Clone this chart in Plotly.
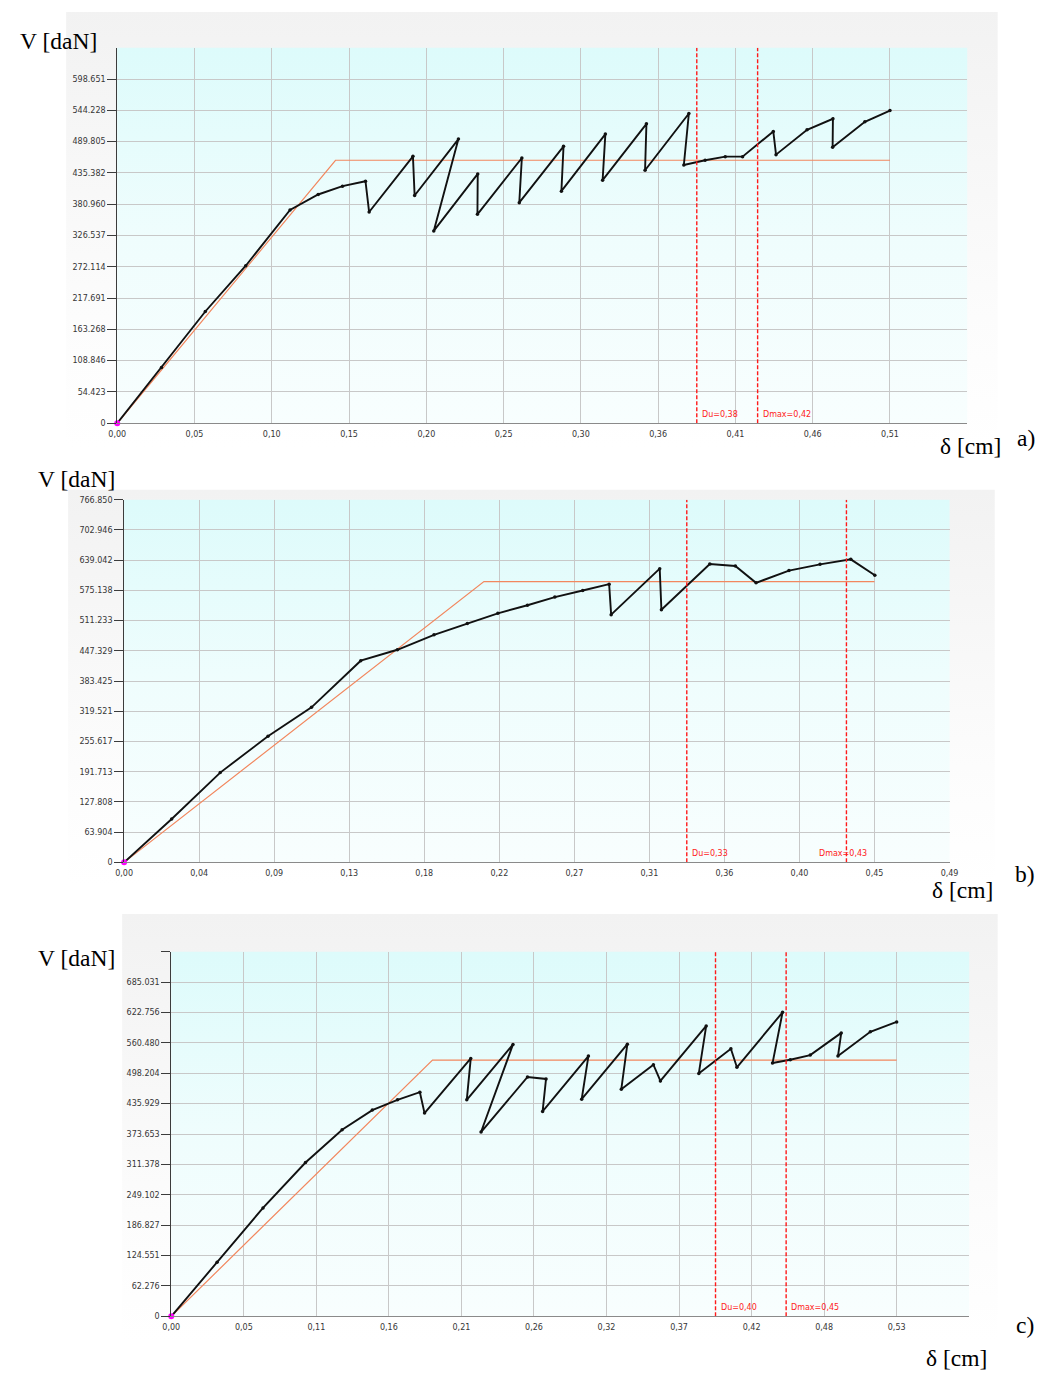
import plotly.graph_objects as go

# page size and the browser's default body margin
PAGE_W, PAGE_H = 1054, 1378
OFF = 8
W, H = PAGE_W - 2 * OFF, PAGE_H - 2 * OFF

# ---------------- data ----------------
# panel a)
a_x = [0.0, 0.0291, 0.0579, 0.0845, 0.1136, 0.1321, 0.1481, 0.1632, 0.1656, 0.1944,
       0.1955, 0.2243, 0.2081, 0.2370, 0.2368, 0.2660, 0.2643, 0.2934, 0.2920, 0.3209,
       0.3191, 0.3479, 0.3470, 0.3758, 0.3725, 0.3865, 0.3997, 0.4111, 0.4313, 0.4331,
       0.4535, 0.4705, 0.4703, 0.4915, 0.5080]
a_v = [0.0, 96.9, 194.4, 274.0, 370.9, 397.9, 412.4, 421.0, 367.4, 464.3,
       396.2, 494.3, 334.5, 433.7, 363.4, 461.4, 383.6, 481.6, 403.7, 502.9,
       422.8, 520.8, 440.1, 538.7, 449.3, 457.4, 463.7, 463.7, 507.6, 467.2,
       510.4, 529.5, 479.9, 524.3, 543.9]
a_bil_x = [0.0, 0.1435, 0.5080]
a_bil_v = [0.0, 457.4, 457.4]
a_du, a_dmax = 0.381, 0.421
a_xstep, a_ystep = 0.0508, 54.423
a_xticks = ['0,00', '0,05', '0,10', '0,15', '0,20', '0,25', '0,30', '0,36', '0,41', '0,46', '0,51', '']
a_yticks = ['0', '54.423', '108.846', '163.268', '217.691', '272.114', '326.537', '380.960',
            '435.382', '489.805', '544.228', '598.651', '']

# panel b)
b_x = [0.0, 0.0283, 0.0572, 0.0856, 0.1115, 0.1408, 0.1626, 0.1844, 0.2042, 0.2224,
       0.2400, 0.2563, 0.2729, 0.2886, 0.2898, 0.3187, 0.3197, 0.3485, 0.3637, 0.3760,
       0.3956, 0.4141, 0.4324, 0.4467]
b_v = [0.0, 91.7, 189.8, 266.8, 327.8, 426.5, 449.6, 481.1, 504.9, 526.6,
       543.8, 561.0, 575.0, 588.3, 523.8, 621.2, 534.3, 631.0, 626.8, 591.1,
       617.0, 630.3, 640.8, 607.2]
b_bil_x = [0.0, 0.2141, 0.4465]
b_bil_v = [0.0, 593.9, 593.9]
b_du, b_dmax = 0.3348, 0.4298
b_xstep, b_ystep = 0.04465, 63.904
b_xticks = ['0,00', '0,04', '0,09', '0,13', '0,18', '0,22', '0,27', '0,31', '0,36', '0,40', '0,45', '0,49']
b_yticks = ['0', '63.904', '127.808', '191.713', '255.617', '319.521', '383.425', '447.329',
            '511.233', '575.138', '639.042', '702.946', '766.850']

# panel c)
c_x = [0.0, 0.0334, 0.0669, 0.0979, 0.1246, 0.1466, 0.1650, 0.1813, 0.1847, 0.2184,
       0.2155, 0.2492, 0.2259, 0.2598, 0.2733, 0.2708, 0.3042, 0.2993, 0.3326, 0.3282,
       0.3516, 0.3567, 0.3901, 0.3847, 0.4081, 0.4125, 0.4458, 0.4385, 0.4514, 0.4660,
       0.4886, 0.4862, 0.5098, 0.5290]
c_v = [0.0, 110.8, 222.2, 315.3, 382.6, 422.7, 443.8, 459.4, 416.6, 528.7,
       443.8, 557.3, 377.8, 490.6, 486.6, 420.0, 533.5, 445.1, 557.9, 465.5,
       515.8, 482.5, 595.3, 497.5, 548.4, 510.4, 623.2, 519.2, 526.0, 535.5,
       581.0, 533.5, 583.1, 603.5]
c_bil_x = [0.0, 0.1905, 0.5290]
c_bil_v = [0.0, 525.3, 525.3]
c_du, c_dmax = 0.3969, 0.4484
c_xstep, c_ystep = 0.0529, 62.276
c_xticks = ['0,00', '0,05', '0,11', '0,16', '0,21', '0,26', '0,32', '0,37', '0,42', '0,48', '0,53', '']
c_yticks = ['0', '62.276', '124.551', '186.827', '249.102', '311.378', '373.653', '435.929',
            '498.204', '560.480', '622.756', '685.031', '']

panel_letters = ['a)', 'b)', 'c)']
y_title = 'V [daN]'
x_title = 'δ [cm]'

# ---------------- layout geometry (page pixels) ----------------
geom = [
    dict(plot=(110, 44, 975, 422), outer=(58, 5, 1006, 447), top_tick=False,
         vlab=(9, 37), dlab=(1011, 445), let=(1046, 437), dmax_shift=3),
    dict(plot=(117, 499, 957, 864), outer=(60, 489, 1003, 887), top_tick=False,
         vlab=(27, 478), dlab=(1003, 892), let=(1046, 876), dmax_shift=-29),
    dict(plot=(165, 954, 977, 1321), outer=(115, 916, 1006, 1347), top_tick=True,
         vlab=(27, 960), dlab=(997, 1363), let=(1045, 1330), dmax_shift=3),
]

datasets = [
    (a_x, a_v, a_bil_x, a_bil_v, a_du, a_dmax, a_xstep, a_ystep, a_xticks, a_yticks),
    (b_x, b_v, b_bil_x, b_bil_v, b_du, b_dmax, b_xstep, b_ystep, b_xticks, b_yticks),
    (c_x, c_v, c_bil_x, c_bil_v, c_du, c_dmax, c_xstep, c_ystep, c_xticks, c_yticks),
]

TICK_FONT = dict(family='DejaVu Sans', size=8, color='#363636')
SERIF = dict(family='Liberation Serif', size=23.5, color='#000000')
RED = '#ff1a1a'


def px(x):
    return (x - OFF) / W


def py(y):
    return 1 - (y - OFF) / H


fig = go.Figure()

# background subplot in page-pixel coordinates for the gradient panels
fig.update_layout(
    xaxis=dict(domain=[0, 1], range=[OFF, PAGE_W - OFF], visible=False, fixedrange=True),
    yaxis=dict(domain=[0, 1], range=[OFF, PAGE_H - OFF], visible=False, fixedrange=True),
)
for g in geom:
    for rect, cs in ((g['outer'], [[0, '#ffffff'], [0.3, '#fcfcfc'], [1, '#f2f2f2']]),
                     (g['plot'], [[0, '#f8fefe'], [0.5, '#effdfd'], [1, '#ddfbfb']])):
        x0, y0, x1, y1 = rect
        fig.add_trace(go.Scatter(
            x=[x0, x1, x1, x0, x0],
            y=[PAGE_H - y0, PAGE_H - y0, PAGE_H - y1, PAGE_H - y1, PAGE_H - y0],
            xaxis='x', yaxis='y', mode='lines', line=dict(width=0),
            fill='toself', fillcolor='#f4f4f4',
            fillgradient=dict(type='vertical', colorscale=cs),
            hoverinfo='skip', showlegend=False))

annotations = []
shapes = []

for i, (g, d) in enumerate(zip(geom, datasets)):
    xs, vs, bx, bv, du, dmax, xstep, ystep, xt, yt = d
    n = i + 2
    xa, ya = f'x{n}', f'y{n}'
    x0, y0, x1, y1 = g['plot']
    xmax = (len(xt) - 1) * xstep
    ymax = (len(yt) - 1) * ystep
    ny = len(yt) if (g['top_tick'] or yt[-1]) else len(yt) - 1

    fig.layout[f'xaxis{n}'] = dict(
        domain=[px(x0), px(x1)], anchor=ya, range=[0, xmax],
        tickmode='array', tickvals=[k * xstep for k in range(len(xt))], ticktext=xt,
        showgrid=True, gridcolor='#c8c8c8', gridwidth=1, zeroline=False,
        showline=True, linecolor='#8a8a8a', linewidth=1,
        ticks='outside', ticklen=3, tickcolor='rgba(0,0,0,0)',
        tickfont=TICK_FONT, fixedrange=True)
    fig.layout[f'yaxis{n}'] = dict(
        domain=[py(y1), py(y0)], anchor=xa, range=[0, ymax],
        tickmode='array', tickvals=[k * ystep for k in range(ny)], ticktext=yt[:ny],
        showgrid=True, gridcolor='#c8c8c8', gridwidth=1, zeroline=False,
        showline=True, linecolor='#3c3c3c', linewidth=1,
        ticks='outside', ticklen=9, tickcolor='#3c3c3c', tickwidth=1,
        tickfont=TICK_FONT, fixedrange=True)

    # plot border
    shapes.append(dict(type='rect', xref=f'{xa} domain', yref=f'{ya} domain',
                       x0=0, x1=1, y0=0, y1=1, layer='below',
                       line=dict(color='#c4c4c4', width=1)))

    # bilinear idealisation
    fig.add_trace(go.Scatter(x=bx, y=bv, xaxis=xa, yaxis=ya, mode='lines',
                             line=dict(color='#f2875e', width=1.2),
                             hoverinfo='skip', showlegend=False))
    # experimental curve
    fig.add_trace(go.Scatter(x=xs, y=vs, xaxis=xa, yaxis=ya, mode='lines+markers',
                             line=dict(color='#111111', width=1.9),
                             marker=dict(color='#111111', size=3.5),
                             hoverinfo='skip', showlegend=False))
    # Du and Dmax vertical lines
    for val in (du, dmax):
        fig.add_trace(go.Scatter(x=[val, val], y=[0, ymax], xaxis=xa, yaxis=ya,
                                 mode='lines', line=dict(color=RED, width=1.4, dash='4px,2px'),
                                 hoverinfo='skip', showlegend=False))
    # origin marker
    fig.add_trace(go.Scatter(x=[xs[0]], y=[vs[0]], xaxis=xa, yaxis=ya, mode='markers',
                             marker=dict(color='#ff00ff', size=6),
                             cliponaxis=False, hoverinfo='skip', showlegend=False))

    lab_font = dict(family='DejaVu Sans', size=8, color=RED)
    annotations.append(dict(text='Du=' + f'{du:.2f}'.replace('.', ','),
                            x=du, xref=xa, y=0, yref=f'{ya} domain',
                            xanchor='left', yanchor='bottom', xshift=3, yshift=2,
                            showarrow=False, font=lab_font))
    annotations.append(dict(text='Dmax=' + f'{dmax:.2f}'.replace('.', ','),
                            x=dmax, xref=xa, y=0, yref=f'{ya} domain',
                            xanchor='left', yanchor='bottom', xshift=g['dmax_shift'], yshift=2,
                            showarrow=False, font=lab_font))

    # outer texts
    vx, vy = g['vlab']
    annotations.append(dict(text=y_title, x=px(vx), y=py(vy), xref='paper', yref='paper',
                            xanchor='left', yanchor='middle', showarrow=False, font=SERIF))
    dx, dy = g['dlab']
    annotations.append(dict(text=x_title, x=px(dx), y=py(dy), xref='paper', yref='paper',
                            xanchor='right', yanchor='middle', showarrow=False, font=SERIF))
    lx, ly = g['let']
    annotations.append(dict(text=panel_letters[i], x=px(lx), y=py(ly), xref='paper', yref='paper',
                            xanchor='right', yanchor='middle', showarrow=False, font=SERIF))

fig.update_layout(
    width=W, height=H, autosize=False,
    margin=dict(l=0, r=0, t=0, b=0, pad=0),
    paper_bgcolor='#ffffff', plot_bgcolor='rgba(0,0,0,0)',
    showlegend=False, annotations=annotations, shapes=shapes,
)

fig.write_html('out.html', config={'displayModeBar': False})
